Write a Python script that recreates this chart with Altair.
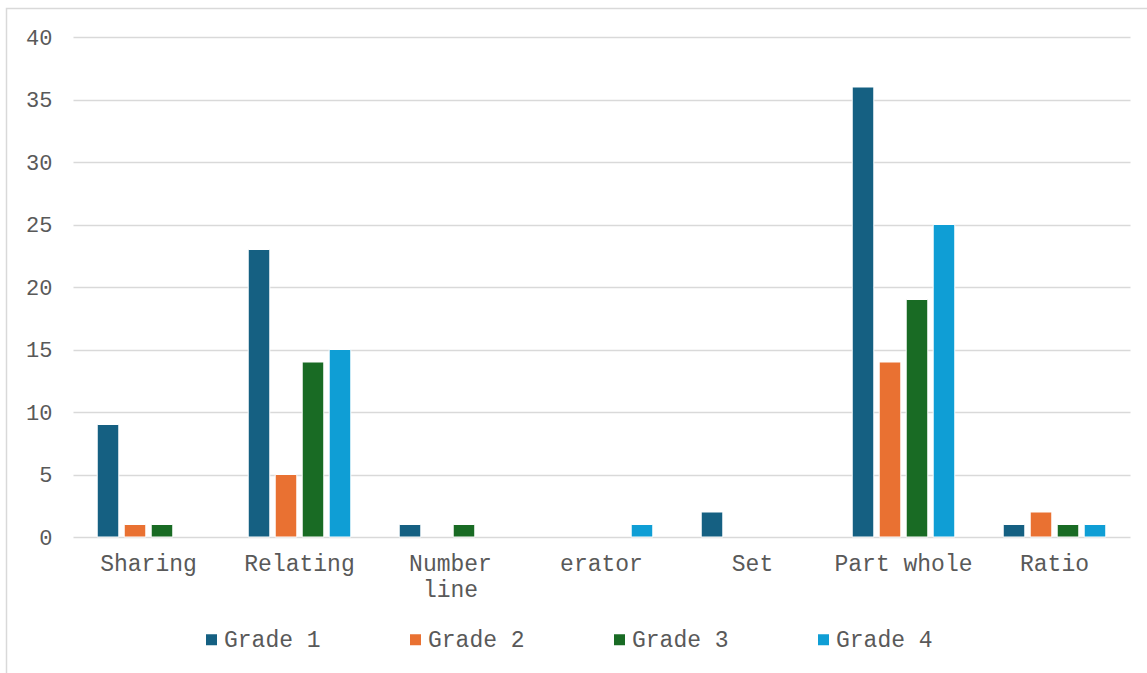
import altair as alt
import pandas as pd

categories = ["Sharing", "Relating", "Number line", "erator", "Set", "Part whole", "Ratio"]
grades = ["Grade 1", "Grade 2", "Grade 3", "Grade 4"]
grade1 = [9, 23, 1, 0, 2, 36, 1]
grade2 = [1, 5, 0, 0, 0, 14, 2]
grade3 = [1, 14, 1, 0, 0, 19, 1]
grade4 = [0, 15, 0, 1, 0, 25, 1]
colors = ["#156082", "#E97132", "#196B24", "#0F9ED5"]

rows = []
for g, vals in zip(grades, [grade1, grade2, grade3, grade4]):
    for c, v in zip(categories, vals):
        rows.append({"category": c, "grade": g, "value": v})
df = pd.DataFrame(rows)

FONT = "Liberation Mono"
GRAY = "#595959"

bars = alt.Chart(df).transform_filter("datum.value > 0").mark_bar(stroke="white", strokeWidth=1).encode(
    x=alt.X("category:N", sort=categories, title=None,
            scale=alt.Scale(domain=categories, paddingInner=0.285, paddingOuter=0.1425),
            axis=alt.Axis(labelAngle=0, labelFont=FONT, labelFontSize=23, labelColor=GRAY,
                          labelPadding=15, ticks=False, domain=False, labelLimit=300,
                          labelExpr="datum.label == 'Number line' ? ['Number', 'line'] : datum.label",
                          labelLineHeight=26)),
    xOffset=alt.XOffset("grade:N", sort=grades,
                        scale=alt.Scale(domain=grades, paddingInner=0.2, paddingOuter=0.1)),
    y=alt.Y("value:Q", title=None,
            scale=alt.Scale(domain=[0, 40], nice=False),
            axis=alt.Axis(values=list(range(0, 41, 5)), labelFont=FONT, labelFontSize=22,
                          labelColor=GRAY, labelPadding=21, ticks=False, domain=False,
                          gridColor="#d9d9d9", gridWidth=1.5)),
    color=alt.Color("grade:N", sort=grades, scale=alt.Scale(domain=grades, range=colors),
                    legend=alt.Legend(title=None, orient="none", direction="horizontal",
                                      legendX=127, legendY=591, columns=4,
                                      symbolType="square", symbolSize=121, symbolStrokeWidth=0,
                                      labelFont=FONT, labelFontSize=23, labelColor=GRAY,
                                      labelOffset=1, columnPadding=83)),
)

border = alt.Chart(pd.DataFrame({"k": [0]})).mark_rect(
    fill=None, stroke="#d9d9d9", strokeWidth=1.5, clip=False
).encode(
    x=alt.value(-66.5), x2=alt.value(1100), y=alt.value(-28.5), y2=alt.value(680)
)

chart = alt.layer(bars, border).properties(
    width=1057, height=500,
    padding={"left": 73, "top": 37, "right": 17, "bottom": 136},
    autosize=alt.AutoSizeParams(type="none"),
    background="white",
).configure_view(stroke=None)

chart.save("out.html", embed_options={"renderer": "svg", "actions": False})
